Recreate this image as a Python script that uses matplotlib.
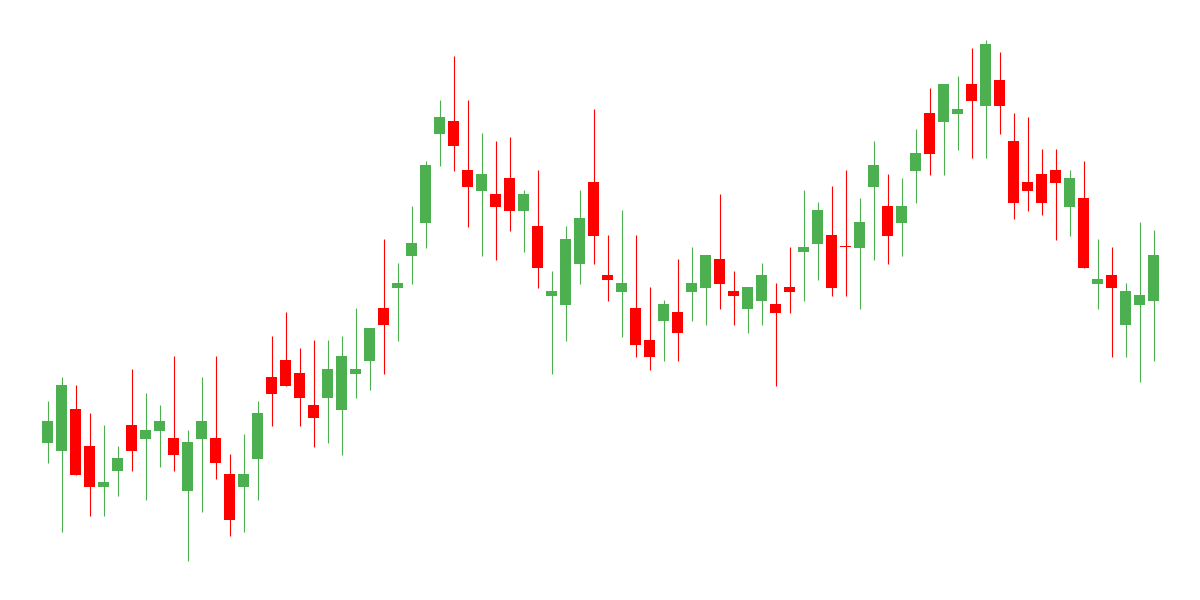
import matplotlib
matplotlib.use("Agg")
import matplotlib.pyplot as plt
import numpy as np

# OHLC data (one row per session)
opens = [157.3, 149.3, 191, 154, 113.3, 129.3, 175, 161.3, 169.3, 162,
         109.3, 161.3, 162, 126, 113.3, 141, 223, 240, 227, 195,
         202.3, 190.3, 226.3, 239.3, 292, 312.3, 344.3, 377.3, 466.3, 479,
         430, 409.3, 406, 422, 389.3, 374, 304.3, 295.3, 336.3, 418,
         325, 308.3, 292, 260, 279.3, 288, 308.3, 312.3, 341, 309,
         291.3, 299.3, 296, 313, 348.3, 356.3, 365, 352.8, 352.3, 413.3,
         394, 377.3, 429.3, 487, 478.3, 486.3, 516, 494.3, 520, 459,
         418, 426, 430, 393.3, 402, 316.3, 325, 275.3, 295.3, 299.3]
highs = [199, 223, 215, 187, 175, 154, 231, 207, 195, 244.3,
         170, 223, 244.3, 146, 166, 199, 264, 288, 252, 260,
         260, 264, 292, 272, 361, 337, 394.3, 439, 500, 544,
         500, 467, 459, 463, 410, 430, 329, 374, 410, 491,
         365, 390, 365, 313, 300, 341, 353, 345, 406, 329,
         313, 337, 317, 353, 410, 398, 414, 430, 402, 459,
         426, 422, 471, 512, 516, 524, 552, 560, 548, 487,
         483, 451, 451, 430, 439, 361, 353, 317, 378, 370]
lows = [137.3, 68.3, 125.3, 84.3, 84.3, 104.3, 129.3, 100.3, 133.3, 129.3,
        39.3, 88.3, 121.3, 64.3, 68.3, 100.3, 174.3, 214.3, 174.3, 153.3,
        157.3, 145.3, 202.3, 210.3, 226.3, 259.3, 316.3, 352.3, 434.3, 429.3,
        373.3, 344.3, 340.3, 369.3, 348.3, 312.3, 226.3, 259.3, 316.3, 336.3,
        299.3, 263.3, 243.3, 230.3, 239.3, 239.3, 279.3, 275.3, 291.3, 275.3,
        267.3, 275.3, 214.3, 287.3, 299.3, 320.3, 304.3, 304.3, 291.3, 340.3,
        336.3, 344.3, 397.3, 425.3, 425.3, 450.3, 442.3, 442.3, 466.3, 381.3,
        389.3, 385.3, 360.3, 364.3, 332.3, 291.3, 243.3, 243.3, 218.3, 239.3]
closes = [179, 215, 125.3, 113.3, 118, 142, 149.3, 170, 179, 145.3,
          158, 179, 137.3, 80.3, 126, 187, 206.3, 214.3, 202.3, 182.3,
          231, 244, 231, 272, 275.3, 317, 357, 435, 483, 454.3,
          413.3, 426, 393.3, 389.3, 406, 332.3, 309, 361, 382, 364.3,
          320.3, 317, 255.3, 243.3, 296, 267.3, 317, 345, 316.3, 304.3,
          313, 325, 287.3, 308.3, 353, 390, 312.3, 352.6, 378, 435,
          364.3, 394, 447, 446.3, 516, 491, 499.3, 556, 494.3, 397.3,
          409.3, 397.3, 417.3, 422, 332.3, 321, 312.3, 309, 305, 345]

up_color = "#4caf50"
down_color = "#ff0000"

fig = plt.figure(figsize=(12, 6), dpi=100)
ax = fig.add_axes([0, 0, 1, 1])

x = np.arange(len(opens))
o = np.array(opens)
h = np.array(highs)
l = np.array(lows)
c = np.array(closes)
colors = [up_color if ci >= oi else down_color for oi, ci in zip(o, c)]

# wicks
ax.vlines(x, l, h, colors=colors, linewidth=0.8, zorder=1)
# bodies
body = np.maximum(np.abs(c - o), 1.2)
ax.bar(x, body, bottom=np.minimum(o, c), width=0.79, color=colors,
       linewidth=0, zorder=2)

ax.set_xlim(-47.5 / 14, 1152.5 / 14)
ax.set_ylim(0, 600)
ax.axis("off")

fig.savefig("out.png", dpi=100, facecolor="white")
